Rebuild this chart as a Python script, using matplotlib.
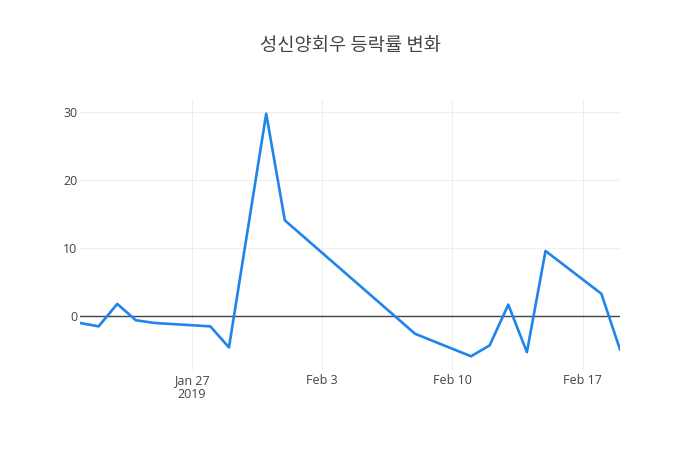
import matplotlib
matplotlib.use("Agg")
import matplotlib.pyplot as plt
import pandas as pd

dates = ["2019-01-21", "2019-01-22", "2019-01-23", "2019-01-24", "2019-01-25",
         "2019-01-28", "2019-01-29", "2019-01-31", "2019-02-01", "2019-02-08",
         "2019-02-11", "2019-02-12", "2019-02-13", "2019-02-14", "2019-02-15",
         "2019-02-18", "2019-02-19"]
changes = [-1.0, -1.5, 1.8, -0.6, -1.0,
           -1.5, -4.6, 29.8, 14.1, -2.6,
           -5.9, -4.3, 1.7, -5.3, 9.6,
           3.3, -4.9]
tick_dates = ["2019-01-27", "2019-02-03", "2019-02-10", "2019-02-17"]
tick_labels = ["Jan 27\n2019", "Feb 3", "Feb 10", "Feb 17"]
title = "성신양회우 등락률 변화"

x = pd.to_datetime(dates)
plt.rcParams['font.family'] = ['Open Sans', 'Noto Sans CJK KR', 'DejaVu Sans']

fig = plt.figure(figsize=(7, 4.5), dpi=100)
ax = fig.add_axes([80/700, 80/450, 540/700, 270/450])

ax.plot(x, changes, color='#1f84ec', lw=1.9, zorder=3)
ax.axhline(0, color='#444444', lw=1, zorder=2)

ax.set_xlim(x[0], x[-1])
ax.set_ylim(-7.92, 31.81)
ax.set_yticks([0, 10, 20, 30])
ax.set_xticks(pd.to_datetime(tick_dates))
ax.set_xticklabels(tick_labels, linespacing=1.05)

ax.grid(True, color='#eeeeee', lw=0.8, zorder=0)
for s in ax.spines.values():
    s.set_visible(False)
ax.tick_params(axis='both', length=0, colors='#444444', labelsize=9.0)
ax.tick_params(axis='x', pad=3)
ax.tick_params(axis='y', pad=2)

fig.text(350/700, 1 - 45/450, title, ha='center', va='center',
         fontsize=13.5, color='#444444', fontweight='medium',
         family=['Noto Sans CJK KR', 'DejaVu Sans'])

fig.savefig("out.png", dpi=100, facecolor='white')
